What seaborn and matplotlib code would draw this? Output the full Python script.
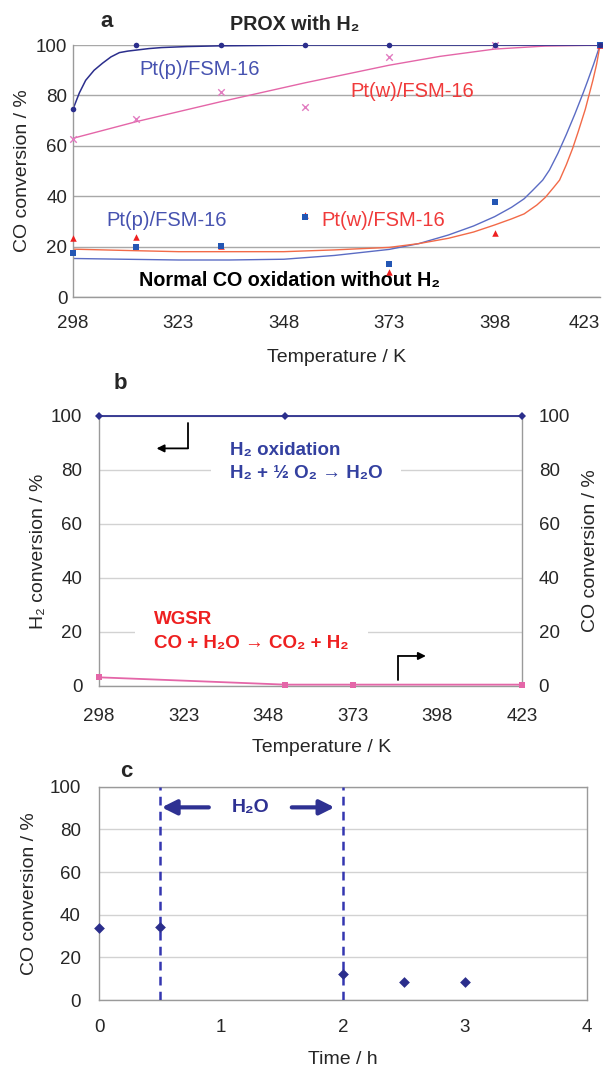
import matplotlib
matplotlib.use("Agg")
import matplotlib.pyplot as plt
import seaborn as sns
import pandas as pd

# ---------------- data ----------------
# Panel a: PROX with H2 and normal CO oxidation
temp_a = [298, 313, 333, 353, 373, 398, 423]
prox_pt_p = [74.6, 100, 100, 100, 100, 100, 100]
prox_pt_w = [62.6, 70.6, 81.5, 75.3, 95.1, 100, 100]
co_pt_p = [17.3, 20.0, 20.2, 31.9, 13.1, 37.8, 100]
co_pt_w = [23.5, 23.9, 20.2, 32.5, 10.0, 25.3, 100]

# trend curves
trend_prox_p_T = [298, 299.5, 301, 303, 305, 307, 309, 311, 313, 316, 319, 325, 333, 353, 373, 398, 423]
trend_prox_p = [74.6, 81, 86, 90, 92.8, 95.3, 97, 97.6, 98, 98.6, 99, 99.4, 99.7, 100, 100, 100, 100]
trend_prox_w_T = [298, 313, 333, 353, 373, 385, 398, 410, 423]
trend_prox_w = [63, 69.6, 77.5, 85, 92, 95.5, 98.4, 99.6, 100]
trend_co_p_T = [298, 310, 323, 335, 348, 360, 373, 380, 387, 393, 398, 402, 405, 407, 409.4,
                411, 413, 415, 417, 419, 420, 421.5, 423]
trend_co_p = [15.3, 15.0, 14.7, 14.7, 15, 16.5, 18.9, 21.2, 24.6, 28.2, 31.9, 35.6, 39, 42.3, 46.4,
              50.4, 57, 64.5, 72.5, 81, 85.5, 92.5, 100]
trend_co_w_T = [298, 310, 323, 335, 348, 360, 373, 380, 387, 393, 398, 402, 405, 408, 410, 412,
                413.4, 415, 416.5, 417.8, 419.5, 421.3, 422.2, 423]
trend_co_w = [19, 18.5, 18, 18, 18, 18.7, 19.7, 21.2, 23.3, 25.8, 28.6, 31, 33, 36.5, 39.5, 43.5,
              46.4, 52.5, 59, 65.5, 74.5, 86, 92.5, 100]

temp_ticks = [298, 323, 348, 373, 398, 423]
pct_ticks = [0, 20, 40, 60, 80, 100]

# Panel b: H2 oxidation and WGSR
temp_b_h2 = [298, 353, 423]
h2_conv_b = [100, 100, 100]
temp_b_co = [298, 353, 373, 423]
co_conv_b = [3.2, 0.5, 0.5, 0.5]

# Panel c: CO conversion vs time
time_c = [0, 0.5, 2, 2.5, 3]
co_conv_c = [33.6, 34.4, 12.0, 8.6, 8.6]
water_on, water_off = 0.5, 2.0
time_ticks = [0, 1, 2, 3, 4]

# ---------------- style ----------------
sns.set_theme(style="white")
FONT = ["Liberation Sans", "DejaVu Sans"]
plt.rcParams["font.family"] = FONT

NAVY = "#2b2e8c"
BLUE_CURVE = "#5b6cc4"
BLUE_TXT = "#4652b0"
PINK = "#e466a8"
PINK_X = "#e27cc0"
BLUE_SQ = "#2356b4"
RED = "#ee2020"
RED_TXT = "#f03a3a"
ORANGE = "#f26a48"
SPINE = "#9a9a9a"
TICK_FS = 13.5
LABEL_FS = 14

fig = plt.figure(figsize=(6.03, 10.70), dpi=100)
axA = fig.add_axes([0.1211, 0.7224, 0.874, 0.2355])
axB = fig.add_axes([0.1642, 0.3589, 0.7015, 0.2526])
axC = fig.add_axes([0.1642, 0.0654, 0.8093, 0.1994])

# ---------------- panel a ----------------
ax = axA
sns.lineplot(x=trend_prox_w_T, y=trend_prox_w, ax=ax, color=PINK, lw=1.0, estimator=None)
sns.lineplot(x=trend_co_p_T, y=trend_co_p, ax=ax, color=BLUE_CURVE, lw=1.0, estimator=None)
sns.lineplot(x=trend_co_w_T, y=trend_co_w, ax=ax, color=ORANGE, lw=1.0, estimator=None)
sns.lineplot(x=trend_prox_p_T, y=trend_prox_p, ax=ax, color=NAVY, lw=1.1, estimator=None)
sns.scatterplot(x=temp_a, y=prox_pt_w, ax=ax, marker="x", color=PINK_X, s=22, linewidth=1.0, clip_on=False, zorder=4)
sns.scatterplot(x=temp_a, y=co_pt_w, ax=ax, marker="^", color=RED, s=22, linewidth=0, clip_on=False, zorder=4)
sns.scatterplot(x=temp_a, y=co_pt_p, ax=ax, marker="s", color=BLUE_SQ, s=20, linewidth=0, clip_on=False, zorder=5)
sns.scatterplot(x=temp_a, y=prox_pt_p, ax=ax, marker="o", color=NAVY, s=16, linewidth=0, clip_on=False, zorder=6)
ax.set_xlim(298, 423)
ax.set_ylim(0, 100)
ax.set_xticks(temp_ticks)
ax.set_yticks(pct_ticks)
ax.yaxis.grid(True, color="#a8a8a8", lw=1.0)
ax.set_axisbelow(True)
for s in ["top", "right"]:
    ax.spines[s].set_visible(False)
for s in ["left", "bottom"]:
    ax.spines[s].set_color(SPINE)
    ax.spines[s].set_linewidth(1.0)
ax.tick_params(axis="x", direction="in", length=4, color=SPINE, pad=13, labelsize=TICK_FS)
ax.tick_params(axis="y", length=0, pad=4, labelsize=TICK_FS)
ax.get_xticklabels()[-1].set_ha("right")
ax.set_xlabel("Temperature / K", fontsize=LABEL_FS)
ax.set_ylabel("CO conversion / %", fontsize=LABEL_FS)
ax.xaxis.set_label_coords(0.501, -0.238)
ax.xaxis.label.set_va("center")
ax.yaxis.set_label_coords(-0.095, 0.5)
ax.yaxis.label.set_va("center")

ax.text(313.7, 90.1, "Pt(p)/FSM-16", color=BLUE_TXT, fontsize=14.5, va="center", ha="left")
ax.text(363.9, 81.5, "Pt(w)/FSM-16", color=RED_TXT, fontsize=14.5, va="center", ha="left")
ax.text(305.8, 30.3, "Pt(p)/FSM-16", color=BLUE_TXT, fontsize=14.5, va="center", ha="left")
ax.text(356.8, 30.3, "Pt(w)/FSM-16", color=RED_TXT, fontsize=14.5, va="center", ha="left")
ax.text(313.7, 6.7, "Normal CO oxidation without H₂", fontsize=14.2, fontweight="bold",
        va="center", ha="left", color="black")
ax.text(335.2, 108.3, "PROX with H₂", fontsize=14.2, fontweight="bold", va="center", ha="left",
        clip_on=False)
ax.text(304.4, 109.5, "a", fontsize=16, fontweight="bold", va="center", ha="left", clip_on=False)

# ---------------- panel b ----------------
ax = axB
sns.lineplot(x=temp_b_h2, y=h2_conv_b, ax=ax, color=NAVY, lw=1.3, marker="D", markersize=4.5,
             markeredgewidth=0, estimator=None, clip_on=False, zorder=5)
sns.lineplot(x=temp_b_co, y=co_conv_b, ax=ax, color=PINK, lw=1.3, marker="s", markersize=5,
             markeredgewidth=0, estimator=None, clip_on=False, zorder=5)
ax.set_xlim(298, 423)
ax.set_ylim(0, 100)
ax.set_xticks(temp_ticks)
ax.set_yticks(pct_ticks)
ax.yaxis.grid(True, color="#d2d2d2", lw=1.0)
ax.set_axisbelow(True)
for s in ["left", "bottom", "right"]:
    ax.spines[s].set_color(SPINE)
    ax.spines[s].set_linewidth(1.0)
ax.spines["top"].set_visible(False)
ax.tick_params(axis="x", direction="in", length=4, color=SPINE, pad=16, labelsize=TICK_FS)
ax.tick_params(axis="y", length=0, pad=12, labelsize=TICK_FS)
ax.set_xlabel("Temperature / K", fontsize=LABEL_FS)
ax.set_ylabel("H₂ conversion / %", fontsize=LABEL_FS)
ax.xaxis.set_label_coords(0.527, -0.229)
ax.xaxis.label.set_va("center")
ax.yaxis.set_label_coords(-0.144, 0.5)
ax.yaxis.label.set_va("center")

axB2 = ax.twinx()
axB2.set_ylim(0, 100)
axB2.set_yticks(pct_ticks)
axB2.tick_params(axis="y", length=0, pad=12, labelsize=TICK_FS)
for s in axB2.spines.values():
    s.set_visible(False)
axB2.grid(False)
axB2.set_ylabel("CO conversion / %", fontsize=LABEL_FS, rotation=90)
axB2.yaxis.set_label_coords(1.161, 0.5)
axB2.yaxis.label.set_va("center")

ax.text(336.7, 82.9, "H₂ oxidation\nH₂ + ½ O₂ → H₂O", color="#3340a0", fontsize=13.5,
        fontweight="bold", va="center", ha="left", linespacing=1.5, zorder=2,
        bbox=dict(boxstyle="square,pad=1.0", facecolor="white", edgecolor="none"))
ax.text(314.3, 20.1, "WGSR\nCO + H₂O → CO₂ + H₂", color=RED, fontsize=13.5,
        fontweight="bold", va="center", ha="left", linespacing=1.5, zorder=2,
        bbox=dict(boxstyle="square,pad=1.0", facecolor="white", edgecolor="none"))
# bent arrows
ax.plot([324.3, 324.3], [97.2, 87.9], color="black", lw=1.3, zorder=4)
ax.annotate("", xy=(315.0, 87.9), xytext=(324.3, 87.9),
            arrowprops=dict(arrowstyle="-|>", color="black", lw=1.3, shrinkA=0, shrinkB=0,
                            mutation_scale=11), zorder=4)
ax.plot([386.4, 386.4], [2.2, 11.1], color="black", lw=1.3, zorder=4)
ax.annotate("", xy=(394.6, 11.1), xytext=(386.4, 11.1),
            arrowprops=dict(arrowstyle="-|>", color="black", lw=1.3, shrinkA=0, shrinkB=0,
                            mutation_scale=11), zorder=4)
ax.text(302.2, 112, "b", fontsize=16, fontweight="bold", va="center", ha="left", clip_on=False)

# ---------------- panel c ----------------
ax = axC
sns.scatterplot(x=time_c, y=co_conv_c, ax=ax, marker="D", color=NAVY, s=30, linewidth=0,
                clip_on=False, zorder=5)
ax.axvline(water_on, color="#3436b0", lw=1.8, ls=(0, (3.5, 2.5)), zorder=3)
ax.axvline(water_off, color="#3436b0", lw=1.8, ls=(0, (3.5, 2.5)), zorder=3)
ax.set_xlim(0, 4)
ax.set_ylim(0, 100)
ax.set_xticks(time_ticks)
ax.set_yticks(pct_ticks)
ax.yaxis.grid(True, color="#d2d2d2", lw=1.0)
ax.set_axisbelow(True)
for s in ax.spines.values():
    s.set_color(SPINE)
    s.set_linewidth(1.0)
ax.tick_params(axis="x", direction="in", length=4, color=SPINE, pad=14, labelsize=TICK_FS)
ax.tick_params(axis="y", length=0, pad=13, labelsize=TICK_FS)
ax.set_xlabel("Time / h", fontsize=LABEL_FS)
ax.set_ylabel("CO conversion / %", fontsize=LABEL_FS)
ax.xaxis.set_label_coords(0.5, -0.281)
ax.xaxis.label.set_va("center")
ax.yaxis.set_label_coords(-0.143, 0.5)
ax.yaxis.label.set_va("center")

ax.annotate("", xy=(0.514, 90.3), xytext=(0.90, 90.3),
            arrowprops=dict(arrowstyle="-|>", color="#2e3192", lw=3, shrinkA=0, shrinkB=0,
                            mutation_scale=22), zorder=4)
ax.annotate("", xy=(1.93, 90.3), xytext=(1.58, 90.3),
            arrowprops=dict(arrowstyle="-|>", color="#2e3192", lw=3, shrinkA=0, shrinkB=0,
                            mutation_scale=22), zorder=4)
ax.text(1.245, 90.3, "H₂O", color="#2e3192", fontsize=14, fontweight="bold", va="center",
        ha="center")
ax.text(0.17, 107, "c", fontsize=16, fontweight="bold", va="center", ha="left", clip_on=False)

fig.savefig("out.png", dpi=100)
